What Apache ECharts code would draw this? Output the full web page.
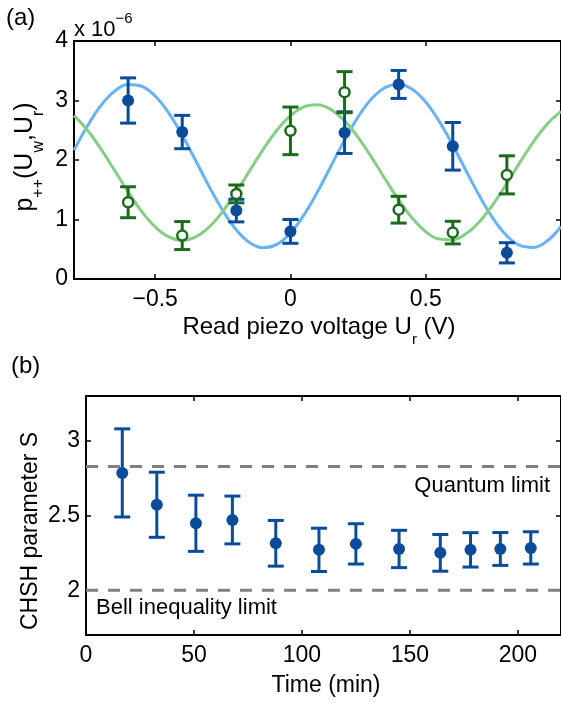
<!DOCTYPE html>
<html><head><meta charset="utf-8">
<script src="https://cdn.jsdelivr.net/npm/echarts@6/dist/echarts.min.js"></script>
<style>html,body{margin:0;padding:0;background:#fff}#c{width:561px;height:705px}</style>
</head><body><div id="c"></div>
<script>
// ---------- Panel (a) data ----------
const voltA = [-0.6, -0.4, -0.2, 0, 0.2, 0.4, 0.6, 0.8];
const bluePts = [3.00, 2.47, 1.15, 0.80, 2.46, 3.27, 2.23, 0.44];
const blueErr = [0.38, 0.28, 0.19, 0.20, 0.35, 0.235, 0.40, 0.17];
const greenPts = [1.29, 0.73, 1.43, 2.49, 3.14, 1.165, 0.78, 1.75];
const greenErr = [0.26, 0.235, 0.15, 0.40, 0.345, 0.225, 0.19, 0.32];
const fitX = [-0.80,-0.75,-0.70,-0.65,-0.60,-0.55,-0.50,-0.45,-0.40,-0.35,-0.30,-0.25,-0.20,-0.15,-0.10,-0.05,0.00,0.05,0.10,0.15,0.20,0.25,0.30,0.35,0.40,0.45,0.50,0.55,0.60,0.65,0.70,0.75,0.80,0.85,0.90,0.95,1.00];
const blueFit = [2.163,2.575,2.918,3.157,3.269,3.240,3.076,2.791,2.415,1.988,1.551,1.151,0.825,0.610,0.526,0.582,0.772,1.077,1.466,1.900,2.334,2.723,3.028,3.218,3.274,3.190,2.975,2.649,2.249,1.812,1.385,1.009,0.724,0.560,0.531,0.643,0.882];
const greenFit = [2.745,2.501,2.183,1.826,1.466,1.137,0.876,0.708,0.650,0.708,0.876,1.137,1.466,1.826,2.183,2.501,2.745,2.893,2.928,2.847,2.658,2.381,2.044,1.680,1.329,1.024,0.797,0.671,0.659,0.763,0.971,1.263,1.608,1.972,2.317,2.609,2.817];
const ticksAx = [-0.5, 0, 0.5];
const ticksAy = [0, 1, 2, 3, 4];

// ---------- Panel (b) data ----------
const timeMin = [16.8, 32.8, 50.9, 67.8, 87.9, 107.9, 125.0, 145.0, 164.1, 178.1, 191.9, 206.0];
const chsh = [2.785, 2.572, 2.448, 2.47, 2.314, 2.27, 2.31, 2.276, 2.25, 2.27, 2.276, 2.283];
const chshErr = [0.295, 0.218, 0.188, 0.16, 0.153, 0.145, 0.135, 0.125, 0.123, 0.115, 0.11, 0.108];
const ticksBx = [0, 50, 100, 150, 200];
const ticksBy = [2, 2.5, 3];
const quantumLimit = 2.828;
const bellLimit = 2;

const FONT = 'Liberation Sans, Arial, Helvetica, sans-serif';
const DARKBLUE = '#0b4c9a';
const DARKGREEN = '#1c6b1c';
const LIGHTBLUE = '#66b3f7';
const LIGHTGREEN = '#84cf84';

function fmt(v) { return String(v).replace('-', '\u2212'); }

function axis(opt) {
  return {
    type: 'value', min: opt.min, max: opt.max, gridIndex: opt.grid, position: opt.position,
    axisLine: { show: true, onZero: false, lineStyle: { color: '#000', width: 2 } },
    axisTick: { show: true, inside: true, length: 5, customValues: opt.ticks, lineStyle: { color: '#000', width: 1.5 } },
    axisLabel: { show: !!opt.labels, customValues: opt.ticks, fontSize: 23, color: '#000', fontFamily: FONT, margin: opt.margin || 8, formatter: fmt },
    splitLine: { show: false }
  };
}

function errSeries(xs, ys, es, color, xi, yi, capW) {
  return {
    type: 'custom', xAxisIndex: xi, yAxisIndex: yi, silent: true, animation: false, z: 3,
    data: xs.map((x, i) => [x, ys[i] - es[i], ys[i] + es[i]]),
    renderItem: function (params, api) {
      const lo = api.coord([api.value(0), api.value(1)]);
      const hi = api.coord([api.value(0), api.value(2)]);
      const h = capW / 2;
      const st = { stroke: color, lineWidth: 3 };
      return { type: 'group', children: [
        { type: 'line', shape: { x1: lo[0], y1: lo[1], x2: hi[0], y2: hi[1] }, style: st },
        { type: 'line', shape: { x1: lo[0] - h, y1: lo[1], x2: lo[0] + h, y2: lo[1] }, style: st },
        { type: 'line', shape: { x1: hi[0] - h, y1: hi[1], x2: hi[0] + h, y2: hi[1] }, style: st }
      ]};
    }
  };
}

const chart = echarts.init(document.getElementById('c'), null, { renderer: 'canvas' });
const ylabRich = {
  a: { fontSize: 25, fontFamily: FONT, color: '#000', verticalAlign: 'top', lineHeight: 34 },
  s: { fontSize: 16, fontFamily: FONT, color: '#000', verticalAlign: 'bottom', lineHeight: 34 }
};
const xlabRich = {
  a: { fontSize: 24, fontFamily: FONT, color: '#000', verticalAlign: 'top', lineHeight: 32 },
  s: { fontSize: 15, fontFamily: FONT, color: '#000', verticalAlign: 'bottom', lineHeight: 32 }
};
const supRich = {
  a: { fontSize: 22, fontFamily: FONT, color: '#000', verticalAlign: 'bottom', lineHeight: 30 },
  s: { fontSize: 15, fontFamily: FONT, color: '#000', verticalAlign: 'top', lineHeight: 30 }
};

const option = {
  animation: false,
  backgroundColor: '#fff',
  grid: [
    { left: 74, top: 41, right: -3, height: 238 },
    { left: 86, top: 396, right: -3, height: 239 }
  ],
  xAxis: [
    axis({ grid: 0, min: -0.8, max: 1.0, ticks: ticksAx, labels: true, position: 'bottom', margin: 9 }),
    axis({ grid: 0, min: -0.8, max: 1.0, ticks: ticksAx, labels: false, position: 'top' }),
    axis({ grid: 1, min: 0, max: 220, ticks: ticksBx, labels: true, position: 'bottom', margin: 9 }),
    axis({ grid: 1, min: 0, max: 220, ticks: ticksBx, labels: false, position: 'top' })
  ],
  yAxis: [
    axis({ grid: 0, min: 0, max: 4, ticks: ticksAy, labels: true, position: 'left', margin: 6 }),
    axis({ grid: 0, min: 0, max: 4, ticks: ticksAy, labels: false, position: 'right' }),
    axis({ grid: 1, min: 1.7, max: 3.3, ticks: ticksBy, labels: true, position: 'left', margin: 6 }),
    axis({ grid: 1, min: 1.7, max: 3.3, ticks: ticksBy, labels: false, position: 'right' })
  ],
  series: [
    { type: 'line', xAxisIndex: 0, yAxisIndex: 0, data: fitX.map((x, i) => [x, blueFit[i]]), showSymbol: false, smooth: 0.4, lineStyle: { color: LIGHTBLUE, width: 3 }, z: 1 },
    { type: 'line', xAxisIndex: 0, yAxisIndex: 0, data: fitX.map((x, i) => [x, greenFit[i]]), showSymbol: false, smooth: 0.4, lineStyle: { color: LIGHTGREEN, width: 3 }, z: 1 },
    errSeries(voltA, bluePts, blueErr, DARKBLUE, 0, 0, 16),
    { type: 'scatter', xAxisIndex: 0, yAxisIndex: 0, data: voltA.map((x, i) => [x, bluePts[i]]), symbol: 'circle', symbolSize: 12, itemStyle: { color: DARKBLUE, opacity: 1 }, z: 4 },
    errSeries(voltA, greenPts, greenErr, DARKGREEN, 0, 0, 16),
    { type: 'scatter', xAxisIndex: 0, yAxisIndex: 0, data: voltA.map((x, i) => [x, greenPts[i]]), symbol: 'circle', symbolSize: 10, itemStyle: { color: '#fff', borderColor: DARKGREEN, borderWidth: 2.5, opacity: 1 }, z: 5 },

    { type: 'line', xAxisIndex: 2, yAxisIndex: 2, data: [[0, quantumLimit], [220, quantumLimit]], showSymbol: false, lineStyle: { color: '#808080', width: 3, type: [12, 10] }, z: 1 },
    { type: 'line', xAxisIndex: 2, yAxisIndex: 2, data: [[0, bellLimit], [220, bellLimit]], showSymbol: false, lineStyle: { color: '#808080', width: 3, type: [12, 10] }, z: 1 },
    errSeries(timeMin, chsh, chshErr, DARKBLUE, 2, 2, 16),
    { type: 'scatter', xAxisIndex: 2, yAxisIndex: 2, data: timeMin.map((x, i) => [x, chsh[i]]), symbol: 'circle', symbolSize: 12, itemStyle: { color: DARKBLUE, opacity: 1 }, z: 4 }
  ],
  graphic: [
    { type: 'text', x: 6, y: 18, style: { text: '(a)', font: '24px ' + FONT, fill: '#000', verticalAlign: 'middle' } },
    { type: 'text', x: 11, y: 366, style: { text: '(b)', font: '24px ' + FONT, fill: '#000', verticalAlign: 'middle' } },
    { type: 'text', x: 74, y: 26, style: { text: '{a|x 10}{s|\u22126}', rich: supRich, verticalAlign: 'middle', align: 'left' } },
    { type: 'text', x: 30, y: 157, rotation: Math.PI / 2, style: { text: '{a|p}{s|++}{a|(U}{s|w}{a|,U}{s|r}{a|)}', rich: ylabRich, align: 'center', verticalAlign: 'middle' } },
    { type: 'text', x: 319, y: 331, style: { text: '{a|Read piezo voltage U}{s|r}{a| (V)}', rich: xlabRich, align: 'center', verticalAlign: 'middle' } },
    { type: 'text', x: 31, y: 531, rotation: Math.PI / 2, style: { text: 'CHSH parameter S', font: '23px ' + FONT, fill: '#000', align: 'center', verticalAlign: 'middle' } },
    { type: 'text', x: 326, y: 686, style: { text: 'Time (min)', font: '23px ' + FONT, fill: '#000', align: 'center', verticalAlign: 'middle' } },
    { type: 'text', x: 550, y: 486, style: { text: 'Quantum limit', font: '22px ' + FONT, fill: '#000', align: 'right', verticalAlign: 'middle' } },
    { type: 'text', x: 96, y: 608, style: { text: 'Bell inequality limit', font: '22px ' + FONT, fill: '#000', align: 'left', verticalAlign: 'middle' } }
  ]
};
chart.setOption(option);
</script>
</body></html>
